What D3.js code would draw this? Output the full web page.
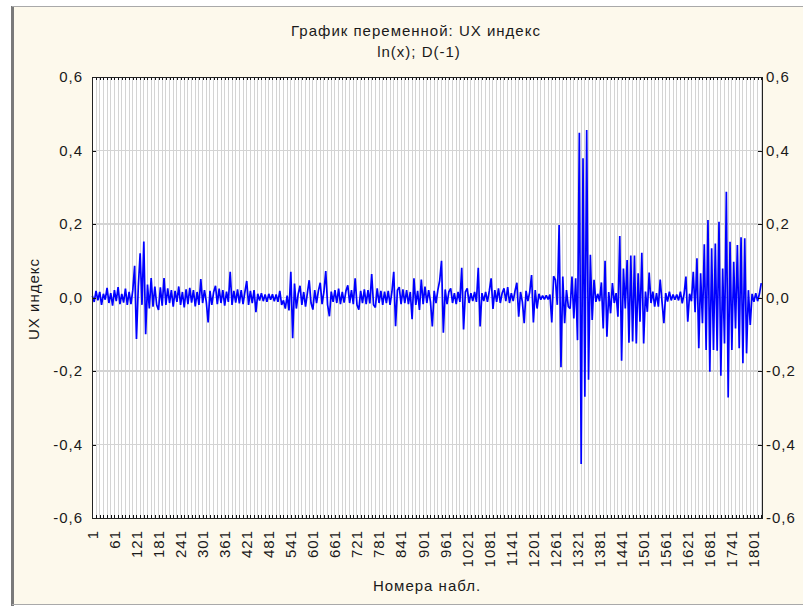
<!DOCTYPE html>
<html>
<head>
<meta charset="utf-8">
<script src="https://cdn.jsdelivr.net/npm/d3@7"></script>
<style>
    body { margin: 0; background: #ffffff; }
    text { font-family: "Liberation Sans", Arial, sans-serif; font-size: 15px; fill: #1a1a1a; letter-spacing: 1px; }
</style>
</head>
<body>
<div id="chart"></div>
<script>

// chart texts
const chartTitle = "График переменной: UX индекс";
const chartSubtitle = "ln(x); D(-1)";
const xAxisTitle = "Номера набл.";
const yAxisTitle = "UX индекс";

// axes
const yTickValues = [-0.6, -0.4, -0.2, 0, 0.2, 0.4, 0.6];
const xTickLabels = [1, 61, 121, 181, 241, 301, 361, 421, 481, 541, 601, 661, 721, 781, 841, 901,
    961, 1021, 1081, 1141, 1201, 1261, 1321, 1381, 1441, 1501, 1561, 1621, 1681, 1741, 1801];
const obsCount = 1823;
const obsStep = 5;     // one reading every 5 observations, first at obs 1

// readings of ln(x) first differences, 100 observations per line
const uxValues = [
    0.005,-0.012,0.018,-0.008,0.015,-0.02,0.01,-0.006,0.026,-0.015,0.012,-0.022,0.02,-0.01,0.028,-0.018,0.01,-0.014,0.024,-0.02,
    0.015,-0.018,0.02,0.086,-0.113,0.03,0.12,-0.02,0.152,-0.1,0.035,-0.03,0.053,-0.025,0.03,-0.02,-0.034,0.028,-0.022,0.053,
    -0.02,0.025,-0.015,0.02,-0.025,0.018,-0.012,0.03,-0.02,0.015,-0.027,0.022,-0.018,0.026,-0.014,0.02,-0.024,0.015,-0.02,0.05,
    -0.015,0.02,-0.012,-0.068,0.018,-0.02,0.015,0.032,-0.018,0.024,-0.015,0.02,-0.022,0.016,-0.012,0.07,-0.02,0.018,-0.014,0.022,
    -0.016,0.02,-0.018,0.015,0.045,-0.02,0.018,-0.015,0.02,-0.04,0.01,-0.008,0.012,-0.01,0.008,-0.012,0.01,-0.006,0.009,-0.01,
    0.008,-0.012,0.018,-0.02,-0.008,-0.03,0.005,-0.035,0.07,-0.111,0.038,-0.03,0.01,0.032,-0.02,0.015,-0.025,0.012,0.047,-0.015,
    -0.033,0.02,-0.015,0.018,0.04,-0.018,0.015,0.072,-0.02,-0.051,0.016,-0.012,0.02,-0.015,0.024,-0.018,0.015,-0.014,0.018,0.033,
    -0.015,0.02,-0.018,0.052,-0.02,-0.033,0.018,-0.015,0.022,-0.018,0.02,-0.016,0.064,-0.02,-0.027,0.025,-0.015,0.018,-0.02,0.016,
    -0.015,0.018,-0.02,0.015,0.07,-0.078,0.02,0.028,-0.018,0.022,-0.015,0.02,-0.018,0.015,-0.059,0.052,-0.02,0.018,-0.034,0.049,
    -0.018,0.03,-0.015,0.02,-0.012,-0.079,0.018,-0.015,0.02,0.046,0.1,-0.096,0.022,-0.018,0.015,0.025,-0.015,0.012,-0.018,0.015,
    -0.012,0.081,-0.087,0.015,0.025,-0.015,0.012,-0.01,0.015,-0.012,0.081,-0.079,0.012,-0.01,0.015,-0.012,0.018,0.052,-0.031,0.02,
    -0.012,0.025,-0.015,0.012,0.025,-0.01,0.028,-0.015,0.012,-0.01,0.018,0.04,-0.052,0.015,-0.012,-0.07,0.018,-0.01,0.015,0.061,
    -0.068,0.02,-0.03,0.01,-0.006,0.005,-0.005,0.006,-0.005,0.008,-0.068,0.058,0.048,-0.02,0.197,-0.19,0.057,-0.07,0.02,-0.025,
    -0.03,0.057,-0.057,0.052,-0.116,0.448,-0.453,0.379,-0.27,0.456,-0.224,0.116,-0.061,0.048,-0.012,0.01,-0.01,0.041,-0.084,0.1,
    -0.107,0.015,-0.043,0.039,-0.015,0.012,-0.052,0.167,-0.172,0.079,-0.03,0.102,-0.123,0.114,-0.12,0.114,-0.125,0.066,-0.066,0.122,
    -0.125,0.016,-0.039,0.068,-0.015,0.016,-0.025,0.012,-0.025,0.049,-0.012,-0.07,0.012,-0.011,0.016,-0.008,0.008,-0.006,0.008,-0.008,
    0.016,-0.016,0.01,0.057,-0.066,0.01,-0.01,0.07,-0.04,0.107,-0.138,0.066,-0.07,0.145,-0.143,0.211,-0.202,0.134,-0.143,0.147,
    -0.145,0.206,-0.213,0.079,-0.125,0.288,-0.272,0.152,-0.143,0.097,-0.084,0.143,-0.138,0.164,-0.179,0.161,-0.152,0.02,-0.075,0.01,
    -0.012,0.012,-0.01,0.01,0.039
];


class SeriesPlot {

    constructor(parentElement, values) {
        this.parentElement = parentElement;
        this.values = values;
        this.initVis();
    }

    initVis() {
        let vis = this;

        vis.W = 803;
        vis.H = 607;
        // plot box in page pixels
        vis.box = {left: 92, right: 762, top: 77, bottom: 518};

        vis.svg = d3.select("#" + vis.parentElement).append("svg")
            .attr("width", vis.W)
            .attr("height", vis.H);

        // window panel
        vis.svg.append("rect")
            .attr("x", 14).attr("y", 7)
            .attr("width", vis.W - 14).attr("height", 597)
            .attr("fill", "#fdf9ec");
        vis.svg.append("line")
            .attr("x1", 12.5).attr("x2", 12.5).attr("y1", 6).attr("y2", 606)
            .attr("stroke", "#7a7a7a").attr("stroke-width", 3);
        vis.svg.append("line")
            .attr("x1", 12).attr("x2", vis.W).attr("y1", 6.5).attr("y2", 6.5)
            .attr("stroke", "#a9a9a9");
        vis.svg.append("line")
            .attr("x1", 12).attr("x2", vis.W).attr("y1", 604.5).attr("y2", 604.5)
            .attr("stroke", "#a9a9a9");

        vis.x = d3.scaleLinear()
            .domain([0, obsCount])
            .range([vis.box.left, vis.box.right]);

        vis.y = d3.scaleLinear()
            .domain([-0.6, 0.6])
            .range([vis.box.bottom, vis.box.top]);

        vis.minorTicks = d3.range(1, obsCount, 10);

        vis.wrangleData();
    }

    wrangleData() {
        let vis = this;
        vis.displayData = vis.values.map((v, i) => ({obs: 1 + i * obsStep, value: v}));
        vis.updateVis();
    }

    updateVis() {
        let vis = this;
        let b = vis.box;

        vis.svg.append("rect")
            .attr("x", b.left).attr("y", b.top)
            .attr("width", b.right - b.left).attr("height", b.bottom - b.top)
            .attr("fill", "#ffffff");

        // grid
        vis.svg.append("g").selectAll("line")
            .data(vis.minorTicks)
            .enter().append("line")
            .attr("x1", d => vis.x(d)).attr("x2", d => vis.x(d))
            .attr("y1", b.top).attr("y2", b.bottom)
            .attr("stroke", "#d4d4d4")
            .attr("shape-rendering", "crispEdges");

        vis.svg.append("g").selectAll("line")
            .data(yTickValues.slice(1, -1))
            .enter().append("line")
            .attr("x1", b.left).attr("x2", b.right)
            .attr("y1", d => vis.y(d)).attr("y2", d => vis.y(d))
            .attr("stroke", "#d4d4d4")
            .attr("stroke-width", 1.5)
            .attr("shape-rendering", "crispEdges");

        // the series
        let line = d3.line()
            .x(d => vis.x(d.obs))
            .y(d => vis.y(d.value));

        vis.svg.append("path")
            .datum(vis.displayData)
            .attr("d", line)
            .attr("fill", "none")
            .attr("stroke", "#0000ff")
            .attr("stroke-width", 1.7)
            .attr("stroke-linejoin", "bevel");

        // axes, ticks point inward
        let fmt = d => d.toFixed(1).replace(".", ",");

        vis.svg.append("g")
            .attr("transform", "translate(0," + b.top + ")")
            .call(d3.axisTop(vis.x).tickValues(vis.minorTicks).tickSize(-3).tickFormat(""));
        vis.svg.append("g")
            .attr("transform", "translate(0," + b.bottom + ")")
            .call(d3.axisBottom(vis.x).tickValues(vis.minorTicks).tickSize(-3).tickFormat(""));
        vis.svg.append("g")
            .attr("class", "y-left")
            .attr("transform", "translate(" + b.left + ",0)")
            .call(d3.axisLeft(vis.y).tickValues(yTickValues).tickSize(-4).tickPadding(9).tickFormat(fmt));
        vis.svg.append("g")
            .attr("class", "y-right")
            .attr("transform", "translate(" + b.right + ",0)")
            .call(d3.axisRight(vis.y).tickValues(yTickValues).tickSize(-4).tickPadding(4).tickFormat(fmt));

        vis.svg.selectAll(".domain").remove();
        vis.svg.selectAll(".tick line").attr("stroke", "#111").attr("shape-rendering", "crispEdges");
        vis.svg.selectAll(".tick text")
            .attr("font-family", null).attr("font-size", null)
            .style("fill", "#1a1a1a");

        vis.svg.append("rect")
            .attr("x", b.left).attr("y", b.top)
            .attr("width", b.right - b.left).attr("height", b.bottom - b.top)
            .attr("fill", "none")
            .attr("stroke", "#222")
            .attr("shape-rendering", "crispEdges");

        // x labels, rotated
        vis.svg.append("g").selectAll("text")
            .data(xTickLabels)
            .enter().append("text")
            .attr("transform", d => "translate(" + vis.x(d) + ",530) rotate(-90)")
            .attr("dy", "0.36em")
            .attr("text-anchor", "end")
            .text(d => d);

        // titles
        vis.svg.append("text")
            .attr("x", 416).attr("y", 36)
            .attr("text-anchor", "middle")
            .text(chartTitle);
        vis.svg.append("text")
            .attr("x", 419).attr("y", 57)
            .attr("text-anchor", "middle")
            .text(chartSubtitle);
        vis.svg.append("text")
            .attr("x", 427).attr("y", 591)
            .attr("text-anchor", "middle")
            .text(xAxisTitle);
        vis.svg.append("text")
            .attr("transform", "translate(39,299) rotate(-90)")
            .attr("text-anchor", "middle")
            .text(yAxisTitle);
    }
}

new SeriesPlot("chart", uxValues);

</script>
</body>
</html>
